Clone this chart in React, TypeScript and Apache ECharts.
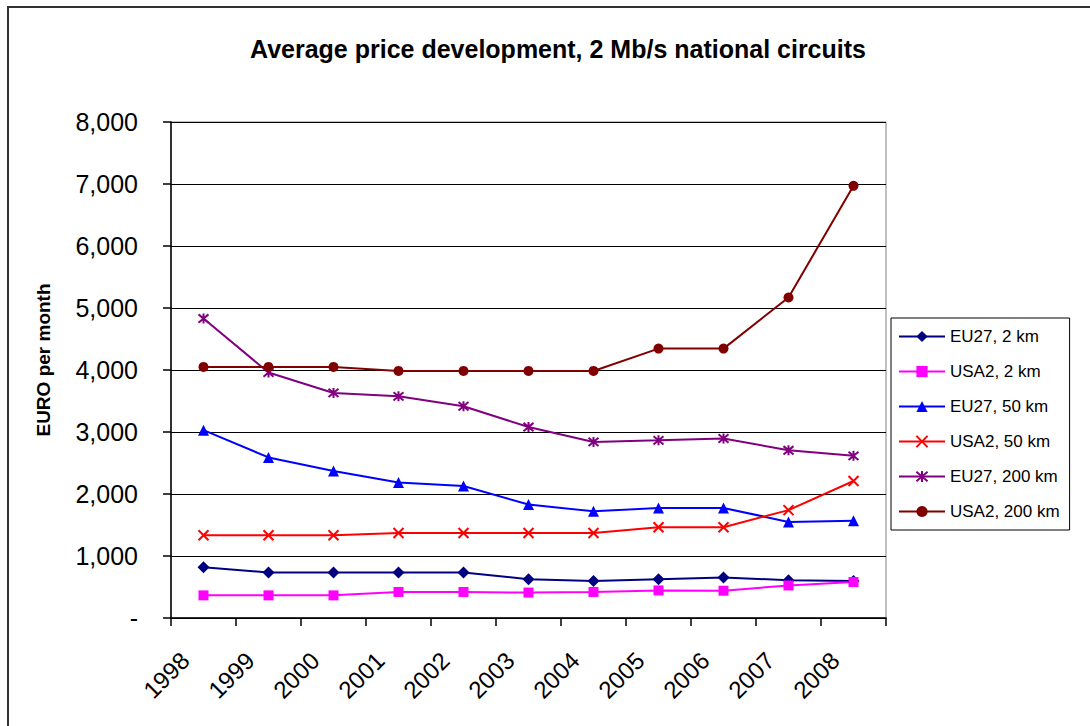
import React, { useEffect, useRef } from 'react';
import * as echarts from 'echarts';

const years = ['1998', '1999', '2000', '2001', '2002', '2003', '2004', '2005', '2006', '2007', '2008'];
const eu27_2km = [820, 735, 735, 735, 735, 625, 595, 625, 655, 610, 595];
const usa2_2km = [365, 365, 365, 420, 420, 410, 420, 445, 440, 525, 580];
const eu27_50km = [3030, 2590, 2370, 2185, 2130, 1830, 1720, 1775, 1775, 1550, 1570];
const usa2_50km = [1335, 1335, 1335, 1370, 1370, 1370, 1370, 1465, 1465, 1740, 2210];
const eu27_200km = [4830, 3960, 3630, 3575, 3415, 3080, 2840, 2865, 2895, 2705, 2615];
const usa2_200km = [4050, 4050, 4050, 3985, 3985, 3985, 3985, 4345, 4345, 5170, 6970];

const FONT = 'Arial, "Liberation Sans", sans-serif';

const X_SYMBOL = 'path://M0,0L10,10M10,0L0,10';
const STAR_SYMBOL = 'path://M0,0L10,10M10,0L0,10M5,-1L5,11';

export default function App() {
  const ref = useRef<HTMLDivElement>(null);
  useEffect(() => {
    const chart = echarts.init(ref.current!, null, { renderer: 'svg' });
    const mk = (name: string, data: number[], color: string, symbol: string, size: number, stroke = false) => ({
      name,
      type: 'line',
      data,
      symbol,
      symbolSize: size,
      showAllSymbol: true,
      lineStyle: { color, width: 2 },
      itemStyle: stroke
        ? { color, borderColor: color, borderWidth: 2 }
        : { color, borderWidth: 0 },
      emphasis: { disabled: true },
    });
    chart.setOption({
      animation: false,
      backgroundColor: '#fff',
      title: {
        text: 'Average price development, 2 Mb/s national circuits',
        left: 553,
        textAlign: 'center',
        top: 31,
        textStyle: { fontFamily: FONT, fontSize: 25, fontWeight: 'bold', color: '#000' },
      },
      graphic: [
        {
          type: 'rect',
          shape: { x: 8, y: 7, width: 1200, height: 800 },
          style: { fill: 'none', stroke: '#333', lineWidth: 2 },
          silent: true,
        },
        {
          type: 'text',
          x: 43,
          y: 360,
          rotation: Math.PI / 2,
          style: {
            text: 'EURO per month',
            font: `bold 19px ${FONT}`,
            fill: '#000',
            align: 'center',
            verticalAlign: 'middle',
          },
        },
      ],
      legend: {
        orient: 'vertical',
        left: 891,
        top: 318,
        padding: [10, 10, 10, 7],
        borderColor: '#000',
        borderWidth: 1,
        backgroundColor: '#fff',
        itemWidth: 46,
        itemHeight: 14,
        itemGap: 18,
        selectedMode: false,
        textStyle: { fontFamily: FONT, fontSize: 17, color: '#000' },
      },
      grid: {
        left: 171,
        right: 204,
        top: 122,
        bottom: 108,
        show: true,
        borderColor: '#808080',
        borderWidth: 1,
        backgroundColor: 'transparent',
      },
      xAxis: {
        type: 'category',
        data: years,
        boundaryGap: true,
        axisLine: { lineStyle: { color: '#000', width: 1.5 } },
        axisTick: { show: true, interval: 0, length: 8, lineStyle: { color: '#000', width: 1.5 } },
        axisLabel: {
          interval: 0,
          rotate: 45,
          margin: 20,
          padding: [0, 26, 0, 0],
          fontFamily: FONT,
          fontSize: 24,
          color: '#000',
        },
        splitLine: { show: false },
      },
      yAxis: {
        type: 'value',
        min: 0,
        max: 8000,
        interval: 1000,
        axisLine: { show: true, lineStyle: { color: '#000', width: 1.5 } },
        axisTick: { show: true, length: 8, lineStyle: { color: '#000', width: 1.5 } },
        axisLabel: {
          margin: 33,
          fontFamily: FONT,
          fontSize: 25,
          color: '#000',
          formatter: (v: number) => (v === 0 ? '-' : v.toLocaleString('en-US')),
        },
        splitLine: { show: true, lineStyle: { color: '#000', width: 1 } },
      },
      series: [
        mk('EU27, 2 km', eu27_2km, '#000080', 'diamond', 12),
        mk('USA2, 2 km', usa2_2km, '#FF00FF', 'rect', 10),
        mk('EU27, 50 km', eu27_50km, '#0000FF', 'triangle', 11),
        mk('USA2, 50 km', usa2_50km, '#FF0000', X_SYMBOL, 10, true),
        mk('EU27, 200 km', eu27_200km, '#800080', STAR_SYMBOL, 10, true),
        mk('USA2, 200 km', usa2_200km, '#800000', 'circle', 10),
      ],
    });
    return () => chart.dispose();
  }, []);
  return (
    <div
      ref={ref}
      style={{ position: 'absolute', left: 0, top: 0, width: 1090, height: 726, background: '#fff' }}
    />
  );
}
